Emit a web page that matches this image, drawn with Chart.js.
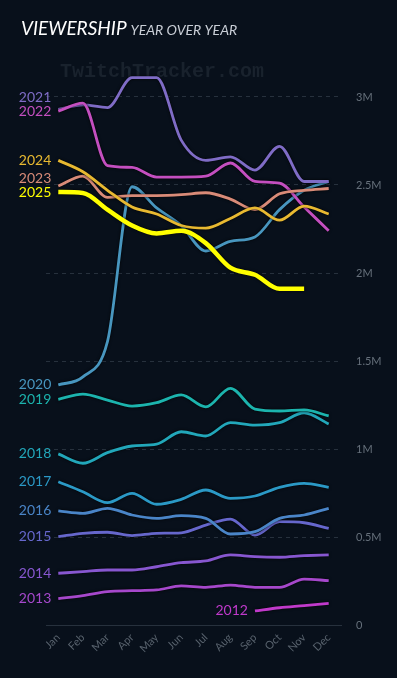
<!DOCTYPE html>
<html>
<head>
<meta charset="utf-8">
<script src="https://cdn.jsdelivr.net/npm/chart.js@4"></script>
<style>
  html, body { margin: 0; padding: 0; background: #08101b; }
  canvas { display: block; }
</style>
</head>
<body>
<canvas id="yoyChart" width="397" height="678"></canvas>
<script>
// monthly average viewers, in millions
var months = ["Jan", "Feb", "Mar", "Apr", "May", "Jun", "Jul", "Aug", "Sep", "Oct", "Nov", "Dec"];
var yTicks = [0, 0.5, 1, 1.5, 2, 2.5, 3];

var v2025 = [2.46, 2.455, 2.36, 2.27, 2.225, 2.24, 2.17, 2.03, 1.99, 1.91, 1.91, null];
var v2024 = [2.64, 2.575, 2.47, 2.375, 2.335, 2.27, 2.255, 2.31, 2.37, 2.3, 2.38, 2.335];
var v2023 = [2.494, 2.55, 2.43, 2.44, 2.44, 2.445, 2.456, 2.42, 2.36, 2.45, 2.47, 2.48];
var v2022 = [2.92, 2.965, 2.61, 2.6, 2.545, 2.545, 2.55, 2.625, 2.52, 2.51, 2.375, 2.24];
var v2021 = [2.93, 2.955, 2.94, 3.11, 3.11, 2.755, 2.64, 2.66, 2.585, 2.72, 2.52, 2.52];
var v2020 = [1.364, 1.41, 1.61, 2.49, 2.37, 2.27, 2.125, 2.18, 2.205, 2.36, 2.47, 2.52];
var v2019 = [1.282, 1.312, 1.278, 1.244, 1.263, 1.307, 1.239, 1.345, 1.227, 1.216, 1.222, 1.188];
var v2018 = [0.972, 0.919, 0.979, 1.017, 1.028, 1.098, 1.074, 1.15, 1.136, 1.15, 1.206, 1.142];
var v2017 = [0.814, 0.757, 0.695, 0.748, 0.686, 0.714, 0.767, 0.72, 0.733, 0.782, 0.805, 0.782];
var v2016 = [0.648, 0.634, 0.663, 0.625, 0.606, 0.621, 0.606, 0.517, 0.53, 0.606, 0.625, 0.663];
var v2015 = [0.502, 0.521, 0.527, 0.508, 0.521, 0.524, 0.568, 0.602, 0.511, 0.587, 0.581, 0.549];
var v2014 = [0.294, 0.303, 0.3125, 0.3125, 0.331, 0.354, 0.364, 0.398, 0.388, 0.385, 0.394, 0.398];
var v2013 = [0.15, 0.167, 0.19, 0.195, 0.199, 0.222, 0.214, 0.227, 0.214, 0.214, 0.261, 0.252];
var v2012 = [null, null, null, null, null, null, null, null, 0.08, 0.098, 0.11, 0.123];

function line(label, data, color, width) {
  return {
    label: label,
    data: data,
    borderColor: color,
    borderWidth: width || 2.8,
    pointRadius: 0,
    fill: false,
    cubicInterpolationMode: "monotone",
    spanGaps: false
  };
}

// draw order: first dataset ends up on top
var datasets = [
  line("2025", v2025, "#ffff00", 4.5),
  line("2024", v2024, "#e8b931"),
  line("2023", v2023, "#d98b78"),
  line("2022", v2022, "#c44fc0"),
  line("2021", v2021, "#7f6cc6"),
  line("2020", v2020, "#4896bf"),
  line("2019", v2019, "#1cb4ae"),
  line("2018", v2018, "#22a7ba"),
  line("2017", v2017, "#2b99c6"),
  line("2016", v2016, "#4a85c8"),
  line("2015", v2015, "#6667cc"),
  line("2014", v2014, "#8757d0"),
  line("2013", v2013, "#a648cc"),
  line("2012", v2012, "#c03acb"),
];

var decor = {
  id: "decor",
  beforeDatasetsDraw: function(chart) {
    var c = chart.ctx;
    c.save();
    c.font = "bold 20px 'Liberation Mono'";
    c.fillStyle = "#19222d";
    c.textBaseline = "middle";
    c.fillText("TwitchTracker.com", 60, 72);
    c.restore();
    // dark halo under lines
    c.save();
    c.shadowColor = "rgba(0,0,0,0.9)";
    c.shadowBlur = 3;
  },
  afterDatasetsDraw: function(chart) {
    var c = chart.ctx;
    c.restore();

    // title
    c.save();
    c.textBaseline = "alphabetic";
    c.fillStyle = "#ffffff";
    c.font = "italic 19px Lato";
    c.fillText("VIEWERSHIP", 21, 35);
    var w = c.measureText("VIEWERSHIP").width;
    c.fillStyle = "#c9ced6";
    c.font = "italic 14px Lato";
    c.fillText("YEAR OVER YEAR", 21 + w + 4, 35);
    c.restore();

    // year labels at the start of each line, pushed apart upward
    var groups = {};
    chart.data.datasets.forEach(function(ds, i) {
      var meta = chart.getDatasetMeta(i);
      var k = ds.data.findIndex(function(v) { return v !== null; });
      var pt = meta.data[k];
      (groups[k] = groups[k] || []).push({ text: ds.label, x: pt.x, y: pt.y, color: ds.borderColor });
    });
    c.save();
    c.font = "14px Lato";
    c.textAlign = "right";
    c.textBaseline = "middle";
    Object.keys(groups).forEach(function(k) {
      var labels = groups[k].sort(function(a, b) { return b.y - a.y; });
      for (var j = 1; j < labels.length; j++) {
        if (labels[j].y > labels[j - 1].y - 14) labels[j].y = labels[j - 1].y - 14;
      }
      labels.forEach(function(l) {
        c.fillStyle = l.color;
        c.fillText(l.text, l.x - 7, l.y);
      });
    });
    c.restore();
  }
};

var ctx = document.getElementById("yoyChart");
var yoyChart = new Chart(ctx, {
  type: "line",
  data: { labels: months, datasets: datasets },
  plugins: [decor],
  options: {
    responsive: false,
    animation: false,
    events: [],
    layout: { padding: { left: 46, top: 53, right: 0, bottom: 0 } },
    plugins: { legend: { display: false }, tooltip: { enabled: false } },
    scales: {
      x: {
        offset: true,
        grid: { display: false, drawTicks: false },
        border: { display: true, color: "#27313d", width: 1 },
        ticks: {
          color: "#58626d",
          font: { family: "Lato", size: 11 },
          minRotation: 45,
          maxRotation: 45,
          padding: 6
        },
        afterFit: function(s) { s.height = 53; }
      },
      y: {
        position: "right",
        min: 0,
        max: 3.25,
        afterBuildTicks: function(s) {
          s.ticks = yTicks.map(function(v) { return { value: v }; });
        },
        grid: { color: "#27313d", drawTicks: false },
        border: { display: false, dash: [4, 4] },
        ticks: {
          color: "#66707b",
          font: { family: "Lato", size: 11 },
          padding: 15,
          callback: function(v) { return v === 0 ? "0" : v + "M"; }
        },
        afterFit: function(s) { s.width = 56; }
      }
    }
  }
});
</script>
</body>
</html>
